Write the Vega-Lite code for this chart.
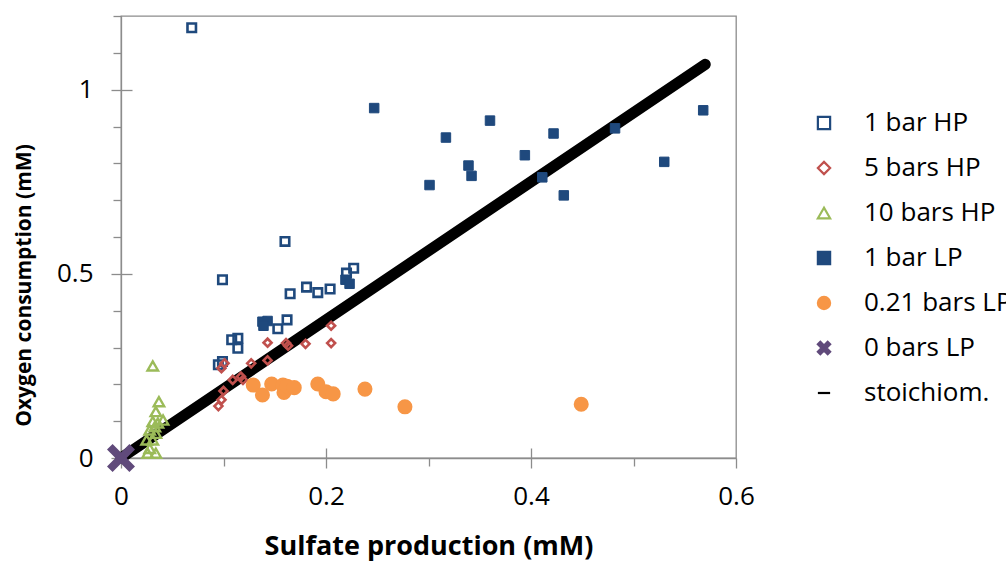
{
  "$schema": "https://vega.github.io/schema/vega-lite/v6.json",
  "autosize": "none",
  "width": 615,
  "height": 442,
  "padding": {"left": 121, "top": 16, "right": 270, "bottom": 103},
  "background": "white",
  "datasets": {
    "measurements": [
      {"series": "1 bar HP", "sulfate": 0.069, "oxygen": 1.168},
      {"series": "1 bar HP", "sulfate": 0.099, "oxygen": 0.484},
      {"series": "1 bar HP", "sulfate": 0.160, "oxygen": 0.588},
      {"series": "1 bar HP", "sulfate": 0.165, "oxygen": 0.446},
      {"series": "1 bar HP", "sulfate": 0.181, "oxygen": 0.464},
      {"series": "1 bar HP", "sulfate": 0.192, "oxygen": 0.449},
      {"series": "1 bar HP", "sulfate": 0.204, "oxygen": 0.459},
      {"series": "1 bar HP", "sulfate": 0.220, "oxygen": 0.502},
      {"series": "1 bar HP", "sulfate": 0.227, "oxygen": 0.515},
      {"series": "1 bar HP", "sulfate": 0.153, "oxygen": 0.351},
      {"series": "1 bar HP", "sulfate": 0.162, "oxygen": 0.375},
      {"series": "1 bar HP", "sulfate": 0.108, "oxygen": 0.321},
      {"series": "1 bar HP", "sulfate": 0.114, "oxygen": 0.325},
      {"series": "1 bar HP", "sulfate": 0.114, "oxygen": 0.298},
      {"series": "1 bar HP", "sulfate": 0.095, "oxygen": 0.253},
      {"series": "1 bar HP", "sulfate": 0.099, "oxygen": 0.262},
      {"series": "5 bars HP", "sulfate": 0.205, "oxygen": 0.359},
      {"series": "5 bars HP", "sulfate": 0.143, "oxygen": 0.313},
      {"series": "5 bars HP", "sulfate": 0.161, "oxygen": 0.312},
      {"series": "5 bars HP", "sulfate": 0.163, "oxygen": 0.305},
      {"series": "5 bars HP", "sulfate": 0.180, "oxygen": 0.310},
      {"series": "5 bars HP", "sulfate": 0.205, "oxygen": 0.312},
      {"series": "5 bars HP", "sulfate": 0.101, "oxygen": 0.257},
      {"series": "5 bars HP", "sulfate": 0.098, "oxygen": 0.244},
      {"series": "5 bars HP", "sulfate": 0.127, "oxygen": 0.257},
      {"series": "5 bars HP", "sulfate": 0.143, "oxygen": 0.265},
      {"series": "5 bars HP", "sulfate": 0.109, "oxygen": 0.212},
      {"series": "5 bars HP", "sulfate": 0.117, "oxygen": 0.221},
      {"series": "5 bars HP", "sulfate": 0.119, "oxygen": 0.212},
      {"series": "5 bars HP", "sulfate": 0.100, "oxygen": 0.182},
      {"series": "5 bars HP", "sulfate": 0.098, "oxygen": 0.158},
      {"series": "5 bars HP", "sulfate": 0.095, "oxygen": 0.141},
      {"series": "10 bars HP", "sulfate": 0.031, "oxygen": 0.250},
      {"series": "10 bars HP", "sulfate": 0.037, "oxygen": 0.153},
      {"series": "10 bars HP", "sulfate": 0.034, "oxygen": 0.126},
      {"series": "10 bars HP", "sulfate": 0.041, "oxygen": 0.103},
      {"series": "10 bars HP", "sulfate": 0.031, "oxygen": 0.099},
      {"series": "10 bars HP", "sulfate": 0.028, "oxygen": 0.076},
      {"series": "10 bars HP", "sulfate": 0.034, "oxygen": 0.067},
      {"series": "10 bars HP", "sulfate": 0.025, "oxygen": 0.049},
      {"series": "10 bars HP", "sulfate": 0.031, "oxygen": 0.049},
      {"series": "10 bars HP", "sulfate": 0.028, "oxygen": 0.026},
      {"series": "10 bars HP", "sulfate": 0.034, "oxygen": 0.013},
      {"series": "10 bars HP", "sulfate": 0.026, "oxygen": 0.013},
      {"series": "10 bars HP", "sulfate": 0.033, "oxygen": 0.085},
      {"series": "10 bars HP", "sulfate": 0.036, "oxygen": 0.095},
      {"series": "1 bar LP", "sulfate": 0.247, "oxygen": 0.950},
      {"series": "1 bar LP", "sulfate": 0.360, "oxygen": 0.916},
      {"series": "1 bar LP", "sulfate": 0.317, "oxygen": 0.870},
      {"series": "1 bar LP", "sulfate": 0.394, "oxygen": 0.822},
      {"series": "1 bar LP", "sulfate": 0.339, "oxygen": 0.794},
      {"series": "1 bar LP", "sulfate": 0.342, "oxygen": 0.766},
      {"series": "1 bar LP", "sulfate": 0.301, "oxygen": 0.741},
      {"series": "1 bar LP", "sulfate": 0.422, "oxygen": 0.881},
      {"series": "1 bar LP", "sulfate": 0.411, "oxygen": 0.762},
      {"series": "1 bar LP", "sulfate": 0.432, "oxygen": 0.713},
      {"series": "1 bar LP", "sulfate": 0.482, "oxygen": 0.895},
      {"series": "1 bar LP", "sulfate": 0.530, "oxygen": 0.804},
      {"series": "1 bar LP", "sulfate": 0.568, "oxygen": 0.944},
      {"series": "1 bar LP", "sulfate": 0.138, "oxygen": 0.370},
      {"series": "1 bar LP", "sulfate": 0.143, "oxygen": 0.372},
      {"series": "1 bar LP", "sulfate": 0.139, "oxygen": 0.359},
      {"series": "1 bar LP", "sulfate": 0.219, "oxygen": 0.484},
      {"series": "1 bar LP", "sulfate": 0.223, "oxygen": 0.473},
      {"series": "0.21 bars LP", "sulfate": 0.129, "oxygen": 0.198},
      {"series": "0.21 bars LP", "sulfate": 0.138, "oxygen": 0.171},
      {"series": "0.21 bars LP", "sulfate": 0.147, "oxygen": 0.201},
      {"series": "0.21 bars LP", "sulfate": 0.158, "oxygen": 0.198},
      {"series": "0.21 bars LP", "sulfate": 0.159, "oxygen": 0.178},
      {"series": "0.21 bars LP", "sulfate": 0.162, "oxygen": 0.195},
      {"series": "0.21 bars LP", "sulfate": 0.169, "oxygen": 0.191},
      {"series": "0.21 bars LP", "sulfate": 0.192, "oxygen": 0.201},
      {"series": "0.21 bars LP", "sulfate": 0.200, "oxygen": 0.180},
      {"series": "0.21 bars LP", "sulfate": 0.207, "oxygen": 0.174},
      {"series": "0.21 bars LP", "sulfate": 0.238, "oxygen": 0.187},
      {"series": "0.21 bars LP", "sulfate": 0.277, "oxygen": 0.139},
      {"series": "0.21 bars LP", "sulfate": 0.449, "oxygen": 0.146},
      {"series": "0 bars LP", "sulfate": 0.0, "oxygen": 0.0}
    ],
    "stoichiometry": [
      {"sulfate": 0.0, "oxygen": 0.0},
      {"sulfate": 0.57, "oxygen": 1.06875}
    ]
  },
  "layer": [
    {
      "data": {"name": "stoichiometry"},
      "mark": {"type": "line", "color": "black", "strokeWidth": 11, "strokeCap": "round", "clip": false},
      "encoding": {
        "x": {
          "field": "sulfate", "type": "quantitative",
          "scale": {"domain": [0, 0.6], "nice": false, "zero": false},
          "axis": {"orient": "bottom", "values": [0.1, 0.2, 0.3, 0.4, 0.5], "tickSize": {"condition": {"test": "datum.value === 0.2 || datum.value === 0.4", "value": -10}, "value": 8}, "labels": false, "domain": false, "title": null}
        },
        "y": {
          "field": "oxygen", "type": "quantitative",
          "scale": {"domain": [0, 1.2], "nice": false, "zero": false},
          "axis": {"orient": "left", "values": [0.1, 0.2, 0.3, 0.4, 0.5, 0.6, 0.7, 0.8, 0.9, 1, 1.1, 1.2], "tickSize": {"condition": {"test": "datum.value === 0.5 || datum.value === 1", "value": -11}, "value": 8}, "labels": false, "domain": false, "title": null}
        }
      }
    },
    {
      "data": {"name": "measurements"},
      "mark": {"type": "point", "filled": true, "opacity": 1, "clip": false},
      "encoding": {
        "x": {
          "field": "sulfate", "type": "quantitative",
          "axis": {"orient": "bottom", "values": [0, 0.2, 0.4, 0.6], "format": "~g", "tickSize": 10, "labelPadding": 15, "labelFlush": false, "labelOverlap": false, "title": "Sulfate production (mM)", "titleFontSize": 27, "titleFontWeight": "bold", "titlePadding": 24}
        },
        "y": {
          "field": "oxygen", "type": "quantitative",
          "axis": {"orient": "left", "values": [0, 0.5, 1], "format": "~g", "tickSize": 10, "labelPadding": 18, "labelFlush": false, "labelOverlap": false, "title": "Oxygen consumption (mM)", "titleFontSize": 21, "titleFontWeight": "bold", "titlePadding": 22, "titleY": 269}
        },
        "shape": {
          "field": "series", "type": "nominal",
          "legend": {"orient": "none", "legendX": 690, "legendY": 94, "title": null},
          "scale": {"domain": ["1 bar HP", "5 bars HP", "10 bars HP", "1 bar LP", "0.21 bars LP", "0 bars LP", "stoichiom."], "range": ["square", "diamond", "triangle-up", "square", "circle", "M-1,-0.6L-0.6,-1L0,-0.4L0.6,-1L1,-0.6L0.4,0L1,0.6L0.6,1L0,0.4L-0.6,1L-1,0.6L-0.4,0Z", "stroke"]}
        },
        "fill": {
          "field": "series", "type": "nominal",
          "legend": {"orient": "none", "legendX": 690, "legendY": 94, "title": null},
          "scale": {"domain": ["1 bar HP", "5 bars HP", "10 bars HP", "1 bar LP", "0.21 bars LP", "0 bars LP", "stoichiom."], "range": ["transparent", "transparent", "transparent", "#1F497D", "#F79646", "#604A7B", "transparent"]}
        },
        "stroke": {
          "field": "series", "type": "nominal",
          "legend": {"orient": "none", "legendX": 690, "legendY": 94, "title": null},
          "scale": {"domain": ["1 bar HP", "5 bars HP", "10 bars HP", "1 bar LP", "0.21 bars LP", "0 bars LP", "stoichiom."], "range": ["#1F497D", "#C0504D", "#9BBB59", "#1F497D", "#F79646", "#604A7B", "#000000"]}
        },
        "size": {
          "condition": [
            {"test": "datum.series === '0 bars LP'", "value": 784},
            {"test": "datum.series === '0.21 bars LP'", "value": 227},
            {"test": "datum.series === '10 bars HP'", "value": 110},
            {"test": "datum.series === '1 bar LP'", "value": 90},
            {"test": "datum.series === '5 bars HP'", "value": 64}
          ],
          "value": 72
        },
        "strokeWidth": {
          "condition": [
            {"test": "datum.series === '0 bars LP' || datum.series === '0.21 bars LP'", "value": 0},
            {"test": "datum.series === '1 bar LP'", "value": 1},
            {"test": "datum.series === '10 bars HP'", "value": 2.4}
          ],
          "value": 2.6
        }
      }
    }
  ],
  "resolve": {"axis": {"x": "independent", "y": "independent"}},
  "config": {
    "view": {"stroke": "#8c8c8c", "strokeWidth": 1.3},
    "axis": {
      "grid": false,
      "domainColor": "#8c8c8c",
      "domainWidth": 1.3,
      "tickColor": "#8c8c8c",
      "tickWidth": 1.3,
      "labelColor": "#000000",
      "labelFont": "Open Sans",
      "labelFontSize": 26,
      "titleColor": "#000000",
      "titleFont": "Open Sans"
    },
    "legend": {
      "labelFont": "Open Sans",
      "labelFontSize": 26,
      "labelColor": "#000000",
      "labelOffset": 27,
      "padding": 0,
      "rowPadding": 19,
      "gridAlign": "all",
      "symbolSize": 150,
      "symbolStrokeWidth": 2.2
    }
  }
}
